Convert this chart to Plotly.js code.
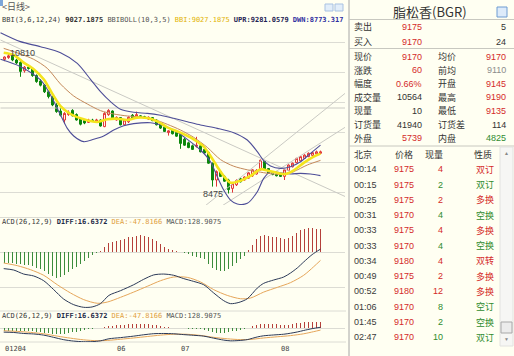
<!DOCTYPE html>
<html>
<head>
<meta charset="utf-8">
<script src="https://cdn.plot.ly/plotly-3.0.1.min.js"></script>
<style>
html,body{margin:0;padding:0;background:#FFFFF2;overflow:hidden;}
#chart{width:514px;height:356px;}
</style>
</head>
<body>
<div id="chart"></div>
<script>
// ---------------- DATA ----------------
const candleIdx = Array.from({length: 80}, (_, i) => i);
const openP = [
 10710,10740,10770,10700,10660,10520,10580,10560,10440,10350,
 10280,10170,10080,9950,9850,9700,9790,9860,9790,9720,
 9690,9660,9700,9680,9700,9590,9790,9850,9700,9740,
 9620,9670,9780,9740,9770,9755,9715,9740,9700,9630,
 9580,9490,9530,9490,9460,9380,9320,9270,9260,9270,
 9210,9160,8980,8700,8840,8760,8700,8560,8620,8720,
 8700,8730,8770,8800,8870,9010,8890,8820,8800,8790,
 8760,8860,8920,8990,9020,9060,9090,9110,9135,9145];
const highP = [
 10760,10810,10790,10720,10680,10600,10620,10580,10460,10380,
 10300,10190,10100,9980,9900,9830,9860,9880,9810,9740,
 9710,9720,9720,9720,9710,9830,9880,9860,9760,9750,
 9710,9760,9800,9840,9780,9770,9760,9750,9710,9650,
 9600,9530,9540,9510,9480,9400,9340,9290,9420,9290,
 9230,9170,8990,8860,8860,8780,8720,8660,8710,8740,
 8760,8830,8880,8880,9040,9020,8900,8830,8810,8800,
 8880,8960,8990,9070,9100,9130,9160,9170,9190,9190];
const lowP = [
 10680,10720,10680,10630,10420,10490,10540,10420,10320,10260,
 10150,10060,9930,9820,9760,9640,9770,9760,9690,9610,
 9630,9650,9670,9670,9590,9580,9770,9720,9690,9610,
 9600,9650,9720,9720,9740,9720,9700,9680,9610,9550,
 9500,9440,9460,9420,9220,9270,9230,9200,9240,9160,
 9140,8970,8590,8590,8750,8670,8475,8490,8600,8660,
 8690,8720,8750,8790,8860,8860,8800,8780,8760,8750,
 8700,8850,8910,8980,9010,9050,9080,9100,9120,9135];
const closeP = [
 10750,10770,10700,10650,10510,10580,10560,10440,10340,10280,
 10170,10090,9950,9840,9780,9810,9830,9770,9700,9630,
 9650,9700,9680,9700,9600,9810,9860,9730,9745,9620,
 9700,9745,9730,9790,9750,9735,9745,9690,9620,9565,
 9510,9520,9470,9430,9310,9280,9240,9210,9280,9170,
 9150,8980,8700,8840,8760,8680,8540,8640,8690,8670,
 8750,8820,8870,8860,9030,8870,8810,8790,8770,8760,
 8870,8950,8980,9060,9090,9115,9145,9155,9170,9170];

// Bollinger (BBIBOLL) upper / lower, BBI and brown average, read at knots
const uprX = [-1,4,9,14,18.2,21.5,24,26.5,29,32.3,35.7,39,42.3,45.7,49,53.2,57.3,60.7,63.2,64.8,66.5,69,71.5,74,76.5,79];
const uprY = [11156,11006,10922,10822,10644,10378,10172,10005,9878,9828,9811,9778,9728,9672,9617,9561,9489,9367,9172,9022,8933,8894,8922,9005,9144,9281];
const dwnX = [-1,4,9,11.5,14,15.7,17.3,19.8,22.3,24.8,27.3,29.8,32.3,36.5,39,42.3,45.7,49,51.5,53.2,54.8,56.5,58.2,60.7,63.2,64.8,66.5,69,71.5,74,76.5,79];
const dwnY = [10711,10589,10367,10117,9783,9561,9433,9339,9378,9433,9533,9605,9639,9655,9622,9533,9378,9200,9005,8755,8533,8366,8300,8311,8505,8728,8839,8822,8800,8811,8800,8773];
const bbiX = [-0.2,2.3,4.8,7.3,9.8,11.9,14,16.5,19.8,23.2,25.7,28.2,30.7,33.2,35.7,38.2,40.7,44,47.3,49.8,51.5,53.2,54.8,56.5,59,61.5,64,65.7,68.2,70.25,72.3,74.8,77.3,79];
const bbiY = [10822,10783,10656,10544,10378,10144,9933,9800,9711,9667,9711,9722,9700,9739,9733,9678,9578,9489,9378,9256,9100,8922,8767,8655,8689,8767,8880,8860,8820,8800,8860,8985,9090,9140];
const maX = [-0.2,4,7.3,10.7,14,17.3,20.7,24,27.3,30.7,34,37.3,40.7,44,47.3,50.7,54,57.3,60.7,64,67.3,69.8,72.3,75.7,79];
const maY = [10894,10800,10711,10561,10300,10100,9967,9856,9800,9767,9750,9711,9628,9533,9411,9244,9040,8930,8870,8830,8800,8790,8840,8950,9027];

// drawn trend lines (start index, start price, end index, end price)
const trendX0 = [-1, 48.25, 52.75, -1];
const trendY0 = [11033, 8167, 8200, 9900];
const trendX1 = [85.25, 85.25, 85.25, 85.25];
const trendY1 = [8422, 10150, 9583, 9900];

// MACD(26,12,9)
const macdHist = [
 -61,-63,-65,-67,-69,-72,-72,-80,-91,-99,
 -110,-124,-137,-149,-145,-130,-114,-99,-84,-69,
 -51,-34,-17,-6,4,30,50,57,63,69,
 76,84,88,91,95,91,86,76,63,48,
 30,19,11,6,2,-6,-13,-21,-27,-32,
 -42,-67,-91,-105,-109,-107,-99,-80,-61,-42,
 -23,11,38,72,91,95,91,88,84,80,
 76,80,91,110,126,133,137,137,133,128.9];
const diffX = [-0.2,2.3,4.8,7.3,9.8,12.3,14.8,17.3,19.8,21.9,24,26.1,29,32.3,34.8,37.3,39.8,42.3,44.8,47.3,49.8,52.3,54.8,56.5,58.6,60.7,63.2,64.8,67.3,69.8,71.5,73.2,74.8,76.9,79];
const diffY = [-95,-103,-126,-137,-164,-215,-269,-301,-316,-314,-295,-248,-221,-187,-156,-131,-126,-133,-152,-168,-187,-234,-278,-295,-288,-267,-206,-179,-160,-143,-120,-91,-57,-15,16.64];
const deaX = [-0.2,3.2,6.5,9.8,13.2,16.5,19.8,23.2,25.7,29,32.3,35.7,39,42.3,45.7,49,52.3,55.7,59,61.5,64.8,68.2,71.5,74.8,77.3,79];
const deaY = [-63,-78,-101,-133,-187,-234,-272,-293,-286,-259,-229,-196,-164,-143,-145,-171,-215,-248,-267,-263,-229,-202,-175,-133,-84,-47.8];

// indicator read-outs
const bbiLast = '9027.1875', uprLast = '9281.0579', dwnLast = '8773.317';
const diffLast = '16.6372', deaLast = '-47.8166', macdLast = '128.9075';

// month labels
const monthLabels = ['01204', '06', '07', '08'];
const monthStartIdx = [0, 28, 44, 69];

// quote panel
const instrumentName = '脂松香(BGR)';
const quoteLabelL = ['卖出','买入','现价','涨跌','幅度','成交量','现量','订货量','外盘'];
const quoteValL   = ['9175','9170','9170','60','0.66%','10564','10','41940','5739'];
const quoteToneL  = ['up','up','up','up','up','flat','flat','flat','up'];
const quoteLabelR = ['','','均价','前均','开盘','最高','最低','订货差','内盘'];
const quoteValR   = ['5','24','9170','9110','9145','9190','9135','114','4825'];
const quoteToneR  = ['flat','flat','up','muted','up','up','up','flat','down'];

// trade ticks
const tradeHeader = ['北京','价格','现量','性质'];
const tradeTimes  = ['00:14','00:15','00:25','00:31','00:33','00:33','00:34','00:49','00:52','01:06','01:45','02:47'];
const tradePrices = [9175,9175,9175,9170,9175,9170,9180,9175,9180,9170,9170,9170];
const tradeQty    = [4,2,2,4,4,4,4,2,12,8,2,10];
const tradeType   = ['双订','双订','多换','空换','多换','空换','双转','多换','多换','空订','空换','双订'];
const tradeSide   = ['B','S','B','S','B','S','B','B','B','S','S','S'];

// ---------------- STYLE / LAYOUT ----------------
const W = 514, H = 356;
const P = x => x / W, Q = y => 1 - y / H;
const BG = '#FFFFF2', GRID = '#DCDCD4';
const RED = '#D42A2A', GREEN = '#2F8B2F', DARK = '#333333', MUTED = '#8C8C8C';
const tone = {up: RED, down: GREEN, flat: DARK, muted: MUTED};
const NUMF = 'Liberation Sans, Arial, sans-serif';
const CJKF = 'Noto Sans CJK SC, sans-serif';
const MONO = 'DejaVu Sans Mono, monospace';

const data = [];
for (let k = 0; k < trendX0.length; k++) {
  data.push({type:'scatter', mode:'lines', x:[trendX0[k], trendX1[k]], y:[trendY0[k], trendY1[k]],
    xaxis:'x', yaxis:'y', line:{color:'#CACAC4', width:1}, hoverinfo:'skip'});
}
data.push({type:'scatter', mode:'lines', x:uprX, y:uprY, line:{color:'#4E4E98', width:1.1, shape:'spline', smoothing:0.8}, hoverinfo:'skip'});
data.push({type:'scatter', mode:'lines', x:dwnX, y:dwnY, line:{color:'#4E4E98', width:1.1, shape:'spline', smoothing:0.8}, hoverinfo:'skip'});
data.push({type:'scatter', mode:'lines', x:maX, y:maY, line:{color:'#C4895A', width:1, shape:'spline', smoothing:0.8}, hoverinfo:'skip'});
data.push({type:'scatter', mode:'lines', x:bbiX, y:bbiY, line:{color:'#F4E41C', width:2.6, shape:'spline', smoothing:0.8}, hoverinfo:'skip'});
data.push({type:'candlestick', x:candleIdx, open:openP, high:highP, low:lowP, close:closeP,
  xaxis:'x', yaxis:'y', whiskerwidth:0,
  increasing:{line:{color:'#E03434', width:1}, fillcolor:BG},
  decreasing:{line:{color:'#0C870C', width:1}, fillcolor:'#0C870C'},
  hoverinfo:'skip'});

const histColors = macdHist.map(v => v >= 0 ? '#B5403A' : '#3C8C3C');
['y2','y3'].forEach(ax => {
  data.push({type:'bar', x:candleIdx, y:macdHist, xaxis:'x', yaxis:ax, width:0.25,
    marker:{color:histColors, line:{width:0}}, hoverinfo:'skip'});
  data.push({type:'scatter', mode:'lines', x:deaX, y:deaY, xaxis:'x', yaxis:ax,
    line:{color:'#E6A65A', width:1, shape:'spline', smoothing:0.8}, hoverinfo:'skip'});
  data.push({type:'scatter', mode:'lines', x:diffX, y:diffY, xaxis:'x', yaxis:ax,
    line:{color:'#2C3A58', width:1, shape:'spline', smoothing:0.8}, hoverinfo:'skip'});
});

const ann = [];
function txt(x, y, text, o) {
  o = o || {};
  ann.push({xref:'paper', yref:'paper', x:P(x), y:Q(y), text:text, showarrow:false,
    xanchor:o.xa || 'left', yanchor:'middle', borderpad:0,
    font:{family:o.family || NUMF, size:o.size || 9, color:o.color || DARK}});
}

txt(1, 7, '&lt;日线&gt;', {family:CJKF, size:9, color:'#555'});
txt(1, 20,
  '<span style="color:#3a3a3a">BBI(3,6,12,24)</span> <b>' + bbiLast + '</b> ' +
  '<span style="color:#555">BBIBOLL(10,3,5)</span> ' +
  '<span style="color:#E2B200">BBI:' + bbiLast + '</span> ' +
  '<span style="color:#1E2252"><b>UPR:' + uprLast + '</b></span> ' +
  '<span style="color:#2F2FA0"><b>DWN:' + dwnLast + '</b></span>', {family:MONO, size:7});
const macdLabel =
  '<span style="color:#3a3a3a">ACD(26,12,9)</span> ' +
  '<span style="color:#1E2A48"><b>DIFF:' + diffLast + '</b></span> ' +
  '<span style="color:#E0A040">DEA:' + deaLast + '</span> ' +
  '<span style="color:#555">MACD:' + macdLast + '</span>';
txt(1, 221.5, macdLabel, {family:MONO, size:7});
txt(1, 316, macdLabel, {family:MONO, size:7});

const hiIdx = highP.indexOf(Math.max(...highP));
const loIdx = lowP.indexOf(Math.min(...lowP));
ann.push({xref:'x', yref:'y', x:hiIdx, y:highP[hiIdx], text:String(highP[hiIdx]), showarrow:false,
  xanchor:'left', yanchor:'middle', xshift:-1, font:{family:NUMF, size:9, color:'#444'}});
ann.push({xref:'x', yref:'y', x:loIdx, y:lowP[loIdx], text:String(lowP[loIdx]), showarrow:false,
  xanchor:'right', yanchor:'middle', xshift:-4, font:{family:NUMF, size:9, color:'#444'}});

monthLabels.forEach((m, k) => {
  ann.push({xref:'x', yref:'paper', x:monthStartIdx[k], y:Q(349), text:m, showarrow:false,
    xanchor:'left', yanchor:'middle', xshift:-2, font:{family:MONO, size:7, color:'#444'}});
});

txt(430, 11, instrumentName, {xa:'center', family:CJKF, size:13, color:'#333'});
const rowY = k => k < 2 ? 26.7 + 15 * k : 56.7 + 13.57 * (k - 2);
quoteLabelL.forEach((lab, k) => {
  const y = rowY(k);
  txt(353, y, lab, {family:CJKF, size:9, color:DARK});
  txt(423, y, quoteValL[k], {xa:'right', size:9, color:tone[quoteToneL[k]]});
  if (quoteLabelR[k]) txt(437, y, quoteLabelR[k], {family:CJKF, size:9, color:DARK});
  txt(507, y, quoteValR[k], {xa:'right', size:9, color:tone[quoteToneR[k]]});
});

txt(353, 154.3, tradeHeader[0], {family:CJKF, size:9});
txt(414, 154.3, tradeHeader[1], {xa:'right', family:CJKF, size:9});
txt(444, 154.3, tradeHeader[2], {xa:'right', family:CJKF, size:9});
txt(493, 154.3, tradeHeader[3], {xa:'right', family:CJKF, size:9});
tradeTimes.forEach((t, k) => {
  const y = 169.3 + 15.27 * k;
  const c = tradeSide[k] === 'B' ? RED : GREEN;
  txt(353, y, t, {size:9, color:'#3a3a3a'});
  txt(415, y, String(tradePrices[k]), {xa:'right', size:9, color:RED});
  txt(444, y, String(tradeQty[k]), {xa:'right', size:9, color:c});
  txt(495, y, tradeType[k], {xa:'right', family:CJKF, size:9, color:c});
});
txt(506, 153, '▲', {xa:'center', size:5, color:'#888'});
txt(506, 339, '▼', {xa:'center', size:5, color:'#888'});

const shapes = [
  {type:'line', xref:'paper', yref:'paper', x0:P(349), x1:P(349), y0:0, y1:1, line:{color:'#A6A6A6', width:1}},
  {type:'line', xref:'paper', yref:'paper', x0:P(349), x1:1, y0:Q(19.5), y1:Q(19.5), line:{color:'#C8C8C0', width:1}},
  {type:'line', xref:'paper', yref:'paper', x0:P(349), x1:1, y0:Q(48.5), y1:Q(48.5), line:{color:'#C8C8C0', width:1}},
  {type:'line', xref:'paper', yref:'paper', x0:P(349), x1:1, y0:Q(146), y1:Q(146), line:{color:'#C8C8C0', width:1}},
  {type:'line', xref:'paper', yref:'paper', x0:0, x1:P(346), y0:Q(311), y1:Q(311), line:{color:GRID, width:1}, layer:'below'},
  {type:'line', xref:'paper', yref:'paper', x0:0, x1:P(346), y0:Q(342), y1:Q(342), line:{color:GRID, width:1}, layer:'below'},
  {type:'rect', xref:'paper', yref:'paper', x0:P(325), x1:P(333), y0:Q(11), y1:Q(4), fillcolor:'#E2EEFA', line:{color:'#A9C2E2', width:1}},
  {type:'rect', xref:'paper', yref:'paper', x0:P(335), x1:P(343), y0:Q(11), y1:Q(4), fillcolor:'#E2EEFA', line:{color:'#A9C2E2', width:1}},
  {type:'rect', xref:'paper', yref:'paper', x0:P(497), x1:P(507), y0:Q(17), y1:Q(7), fillcolor:'#DDEBFA', line:{color:'#6E9CD2', width:1}},
  {type:'rect', xref:'paper', yref:'paper', x0:0, x1:P(3), y0:Q(6), y1:1, fillcolor:'#7DA6D8', line:{width:0}},
  {type:'rect', xref:'paper', yref:'paper', x0:P(500), x1:P(513), y0:Q(346), y1:Q(147), fillcolor:'#F6F6F4', line:{color:'#E2E2E0', width:1}},
  {type:'rect', xref:'paper', yref:'paper', x0:P(501), x1:P(512), y0:Q(333), y1:Q(322), fillcolor:'#ECECEC', line:{color:'#A8A8A8', width:1}}
];

const axBase = {showticklabels:false, ticks:'', zeroline:false, showline:false, fixedrange:true};
const layout = {
  width:W, height:H, margin:{l:0, r:0, t:0, b:0, pad:0},
  paper_bgcolor:BG, plot_bgcolor:BG, showlegend:false, bargap:0,
  xaxis: Object.assign({}, axBase, {domain:[0, 345/W], range:[-1.125, 85.125], showgrid:false,
    anchor:'y3', rangeslider:{visible:false}}),
  yaxis: Object.assign({}, axBase, {domain:[Q(205), Q(28)], range:[8283.3, 11233.3],
    tick0:8500, dtick:500, showgrid:true, gridcolor:GRID, gridwidth:1, anchor:'x'}),
  yaxis2: Object.assign({}, axBase, {domain:[Q(311), Q(206)], range:[-337.1, 262.9],
    tick0:0, dtick:200, showgrid:true, gridcolor:GRID, gridwidth:1, anchor:'x'}),
  yaxis3: Object.assign({}, axBase, {domain:[Q(342), Q(312)], range:[-322, 368],
    tickvals:[0], showgrid:true, gridcolor:GRID, gridwidth:1, anchor:'x'}),
  shapes: shapes,
  annotations: ann
};

Plotly.newPlot('chart', data, layout, {staticPlot:true, displayModeBar:false});
</script>
</body>
</html>
